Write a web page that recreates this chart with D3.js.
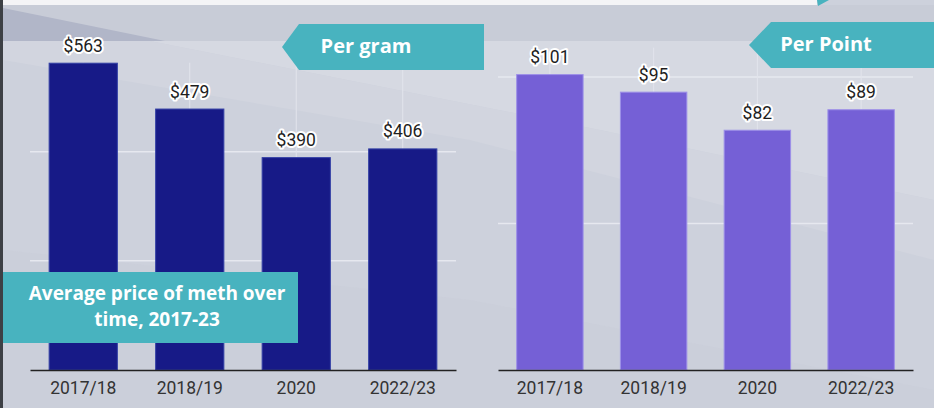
<!DOCTYPE html>
<html><head><meta charset="utf-8">
<script src="https://cdn.jsdelivr.net/npm/d3@7"></script>
<style>body{margin:0;background:#cdd1dc;overflow:hidden} svg{display:block}</style>
</head><body>
<svg id="c" width="934" height="408"></svg>
<script>
const categories = ["2017/18", "2018/19", "2020", "2022/23"];
const perGram = [563, 479, 390, 406];
const perPoint = [101, 95, 82, 89];
const gramTicks = [0, 200, 400];
const pointTicks = [0, 50, 100];
const gramTitle = "Per gram";
const pointTitle = "Per Point";
const titleLines = ["Average price of meth over", "time, 2017-23"];

const svg = d3.select("#c");
const W = 934, H = 408;

// ---------- background ----------
const bg = svg.append("g");
bg.append("rect").attr("width", W).attr("height", H).attr("fill", "#cdd1dc");
const poly = (pts, fill, op) => bg.append("polygon").attr("points", pts.map(p => p.join(",")).join(" ")).attr("fill", fill).attr("opacity", op == null ? 1 : op);
poly([[3,41],[934,41],[934,200],[600,130],[150,41]], "#d6d9e2");
poly([[150,41],[600,130],[934,200],[934,260],[470,140],[3,60],[3,41]], "#d2d5df");
poly([[3,250],[470,300],[934,390],[934,408],[3,408]], "#c9cdd8", 0.6);
poly([[3,5],[934,5],[934,41],[3,41]], "#c8ccd7");
poly([[3,8],[165,41],[3,41]], "#b1b6c8");
bg.append("rect").attr("x", 3).attr("y", 0).attr("width", 814).attr("height", 5).attr("fill", "#f4f4f6");
poly([[817,0],[829,0],[818,6]], "#48b3bf");
bg.append("rect").attr("x", 0).attr("y", 0).attr("width", 3).attr("height", H).attr("fill", "#3d4045");

// ---------- panels ----------
function panel(values, ticks, xr, yTop, yMax, color, edge) {
  const g = svg.append("g");
  const x = d3.scaleBand().domain(categories).range(xr).paddingInner(0.35).paddingOuter(0.175);
  const y = d3.scaleLinear().domain([0, yMax]).range([370, yTop]);
  g.selectAll(".hg").data(ticks.filter(t => t > 0)).join("line")
    .attr("x1", xr[0]).attr("x2", xr[1]).attr("y1", d => y(d)).attr("y2", d => y(d))
    .attr("stroke", "#e6e8ef").attr("stroke-width", 1.5);
  g.selectAll(".vg").data(categories).join("line")
    .attr("x1", d => x(d) + x.bandwidth() / 2).attr("x2", d => x(d) + x.bandwidth() / 2)
    .attr("y1", y(yMax)).attr("y2", 370)
    .attr("stroke", "#e2e4ec").attr("stroke-width", 1);
  g.selectAll(".bar").data(values).join("rect")
    .attr("x", (d, i) => x(categories[i]) + 0.5).attr("y", d => y(d) + 0.5)
    .attr("width", x.bandwidth() - 1).attr("height", d => 370 - y(d) - 0.5)
    .attr("fill", color).attr("stroke", edge).attr("stroke-width", 1);
  const ax = g.append("g").attr("transform", "translate(0,370)")
    .call(d3.axisBottom(x).tickSize(0).tickPadding(11.5));
  ax.select(".domain").attr("stroke", "#222").attr("stroke-width", 1.6);
  ax.selectAll("text").attr("font-family", "Roboto").attr("font-size", 17.5).attr("fill", "#333");
  g.selectAll(".lbl").data(values).join("text")
    .attr("x", (d, i) => x(categories[i]) + x.bandwidth() / 2).attr("y", d => y(d) - 11)
    .attr("text-anchor", "middle").attr("font-family", "Roboto").attr("font-size", 17.5)
    .attr("fill", "#1e1e1e").attr("stroke", "#fff").attr("stroke-width", 4)
    .attr("stroke-linejoin", "round").attr("paint-order", "stroke")
    .text(d => "$" + d);
  return g;
}
panel(perGram, gramTicks, [30, 456], 62.7, 563, "#171a87", "#3440a6");
panel(perPoint, pointTicks, [498, 913], 47.7, 110, "#7560d6", "#9d90e8");

// ---------- tag boxes ----------
const teal = "#48b3bf";
function tag(x0, x1, y0, y1, notch, label, cx) {
  const ym = (y0 + y1) / 2;
  svg.append("polygon").attr("points", [[x0, ym], [x0 + notch, y0], [x1, y0], [x1, y1], [x0 + notch, y1]].map(p => p.join(",")).join(" "))
    .attr("fill", teal);
  svg.append("text").attr("x", cx).attr("y", y1 - 17).attr("text-anchor", "middle")
    .attr("font-family", "Open Sans").attr("font-weight", 700).attr("font-size", 20)
    .attr("fill", "#fff").text(label);
}
tag(282, 484, 24, 70, 17, gramTitle, 366);
tag(749, 934, 22, 68, 22, pointTitle, 826);

svg.append("rect").attr("x", 3).attr("y", 272).attr("width", 295).attr("height", 71).attr("fill", teal);
svg.append("g").selectAll("text").data(titleLines).join("text")
  .attr("x", 157).attr("y", (d, i) => 300 + i * 26).attr("text-anchor", "middle")
  .attr("font-family", "Open Sans").attr("font-weight", 700).attr("font-size", 19)
  .attr("fill", "#fff").text(d => d);
</script>
</body></html>
